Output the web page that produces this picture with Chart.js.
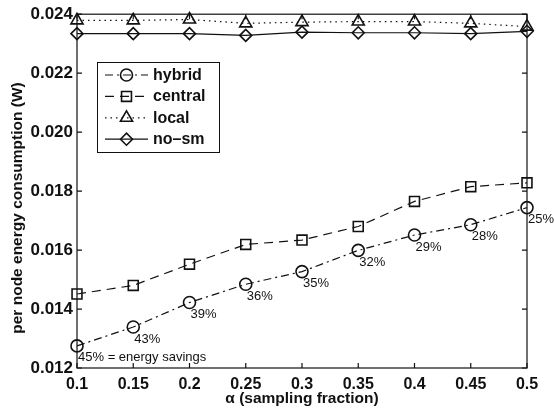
<!DOCTYPE html>
<html>
<head>
<meta charset="utf-8">
<script src="https://cdn.jsdelivr.net/npm/chart.js@4/dist/chart.umd.min.js"></script>
<style>
  html, body { margin: 0; padding: 0; background: #fff; }
  #wrap { width: 554px; height: 411px; position: relative; }
</style>
</head>
<body>
<div id="wrap"><canvas id="c" width="554" height="411"></canvas></div>
<script>
// Sampling fraction (x) and per-node energy consumption (W) per scheme
const alpha   = [0.1, 0.15, 0.2, 0.25, 0.3, 0.35, 0.4, 0.45, 0.5];
const hybrid  = [0.01275, 0.01339, 0.01422, 0.01484, 0.01527, 0.01599, 0.01651, 0.01686, 0.01744];
const central = [0.01451, 0.01480, 0.01552, 0.01619, 0.01634, 0.01680, 0.01765, 0.01815, 0.01828];
const local   = [0.02379, 0.02379, 0.02382, 0.02369, 0.02373, 0.02375, 0.02375, 0.02369, 0.02358];
const noSm    = [0.02334, 0.02334, 0.02334, 0.02328, 0.02339, 0.02337, 0.02337, 0.02334, 0.02342];

// Energy savings of the hybrid scheme, written next to each hybrid point
const savings = ['45% = energy savings', '43%', '39%', '36%', '35%', '32%', '29%', '28%', '25%'];

const xTicks = [0.1, 0.15, 0.2, 0.25, 0.3, 0.35, 0.4, 0.45, 0.5];
const yTicks = [0.012, 0.014, 0.016, 0.018, 0.020, 0.022, 0.024];

const seriesNames = ['hybrid', 'central', 'local', 'no\u2013sm'];

const FONT = '"Liberation Sans", Arial, Helvetica, sans-serif';

function pts(ys) { return alpha.map((x, i) => ({ x: x, y: ys[i] })); }

function ds(label, ys, style, radius, dash) {
  return {
    label: label,
    data: pts(ys),
    borderColor: '#111',
    borderWidth: 1.2,
    borderDash: dash,
    pointStyle: style,
    pointRadius: radius,
    pointHoverRadius: radius,
    pointBorderWidth: 1.6,
    pointBorderColor: '#111',
    pointBackgroundColor: 'rgba(0,0,0,0)',
    tension: 0,
    fill: false,
    clip: false
  };
}

// Frame with inward-pointing ticks on all four sides, plus axis titles
const framePlugin = {
  id: 'frame',
  beforeDatasetsDraw(chart) {
    const { ctx, chartArea: a, scales } = chart;
    ctx.save();
    ctx.strokeStyle = '#111';
    ctx.lineWidth = 1.2;
    ctx.strokeRect(a.left, a.top, a.right - a.left, a.bottom - a.top);
    const L = 5;
    ctx.beginPath();
    xTicks.forEach(v => {
      const px = scales.x.getPixelForValue(v);
      ctx.moveTo(px, a.bottom); ctx.lineTo(px, a.bottom - L);
      ctx.moveTo(px, a.top); ctx.lineTo(px, a.top + L);
    });
    yTicks.forEach(v => {
      const py = scales.y.getPixelForValue(v);
      ctx.moveTo(a.left, py); ctx.lineTo(a.left + L, py);
      ctx.moveTo(a.right, py); ctx.lineTo(a.right - L, py);
    });
    ctx.stroke();
    ctx.restore();
  },
  afterDraw(chart) {
    const { ctx, chartArea: a } = chart;
    ctx.save();
    ctx.fillStyle = '#111';
    ctx.font = 'bold 15.5px ' + FONT;
    ctx.textAlign = 'center';
    ctx.textBaseline = 'middle';
    // x-axis title
    ctx.fillText('\u03b1 (sampling fraction)', (a.left + a.right) / 2, 399);
    // y-axis title
    ctx.translate(18, 208);
    ctx.rotate(-Math.PI / 2);
    ctx.fillText('per node energy consumption (W)', 0, 0);
    ctx.restore();
  }
};

// Savings labels beside the hybrid points
const savingsPlugin = {
  id: 'savings',
  afterDatasetsDraw(chart) {
    const { ctx, scales } = chart;
    ctx.save();
    ctx.fillStyle = '#111';
    ctx.font = '13px ' + FONT;
    ctx.textAlign = 'left';
    ctx.textBaseline = 'middle';
    alpha.forEach((x, i) => {
      const px = scales.x.getPixelForValue(x);
      const py = scales.y.getPixelForValue(hybrid[i]);
      ctx.fillText(savings[i], px + 1, py + 12);
    });
    ctx.restore();
  }
};

// Boxed legend with line samples drawn in each series' style
const legendPlugin = {
  id: 'boxLegend',
  afterDraw(chart) {
    const { ctx } = chart;
    const bx = 97, by = 62, bw = 122, bh = 90;
    ctx.save();
    ctx.fillStyle = '#fff';
    ctx.fillRect(bx, by, bw, bh);
    ctx.strokeStyle = '#111';
    ctx.lineWidth = 1;
    ctx.strokeRect(bx + 0.5, by + 0.5, bw, bh);
    chart.data.datasets.forEach((d, i) => {
      const y = by + 13 + i * 21.4;
      ctx.save();
      ctx.strokeStyle = d.borderColor;
      ctx.lineWidth = d.borderWidth;
      ctx.setLineDash(d.borderDash || []);
      ctx.beginPath();
      ctx.moveTo(105, y); ctx.lineTo(148, y);
      ctx.stroke();
      ctx.setLineDash([]);
      ctx.lineWidth = d.pointBorderWidth;
      ctx.fillStyle = 'rgba(0,0,0,0)';
      Chart.helpers.drawPoint(ctx, {
        pointStyle: d.pointStyle, radius: d.pointRadius, rotation: 0, borderWidth: d.pointBorderWidth
      }, 126.5, y);
      ctx.restore();
      ctx.fillStyle = '#111';
      ctx.font = 'bold 16px ' + FONT;
      ctx.textAlign = 'left';
      ctx.textBaseline = 'middle';
      ctx.fillText(seriesNames[i], 153, y + 0.5);
    });
    ctx.restore();
  }
};

new Chart(document.getElementById('c'), {
  type: 'line',
  data: {
    datasets: [
      ds(seriesNames[0], hybrid, 'circle', 6, [8, 4, 2, 4]),
      ds(seriesNames[1], central, 'rect', 7, [9, 6]),
      ds(seriesNames[2], local, 'triangle', 7, [1.5, 4]),
      ds(seriesNames[3], noSm, 'rectRot', 6, [])
    ]
  },
  options: {
    responsive: false,
    animation: false,
    events: [],
    layout: { padding: { left: 0, right: 27, top: 14, bottom: 0 } },
    plugins: { legend: { display: false }, tooltip: { enabled: false } },
    scales: {
      x: {
        type: 'linear',
        min: 0.1, max: 0.5,
        afterBuildTicks(s) { s.ticks = xTicks.map(v => ({ value: v })); },
        afterFit(s) { s.height = 43; },
        grid: { display: false, drawTicks: false },
        border: { display: false },
        ticks: {
          padding: 7,
          color: '#111',
          font: { family: FONT, size: 16, weight: 'bold' },
          maxRotation: 0,
          autoSkip: false,
          callback: v => String(+v.toFixed(2))
        }
      },
      y: {
        type: 'linear',
        min: 0.012, max: 0.024,
        afterBuildTicks(s) { s.ticks = yTicks.map(v => ({ value: v })); },
        afterFit(s) { s.width = 77; },
        grid: { display: false, drawTicks: false },
        border: { display: false },
        ticks: {
          padding: 4,
          color: '#111',
          font: { family: FONT, size: 17, weight: 'bold' },
          autoSkip: false,
          callback: v => v.toFixed(3)
        }
      }
    }
  },
  plugins: [framePlugin, savingsPlugin, legendPlugin]
});
</script>
</body>
</html>
